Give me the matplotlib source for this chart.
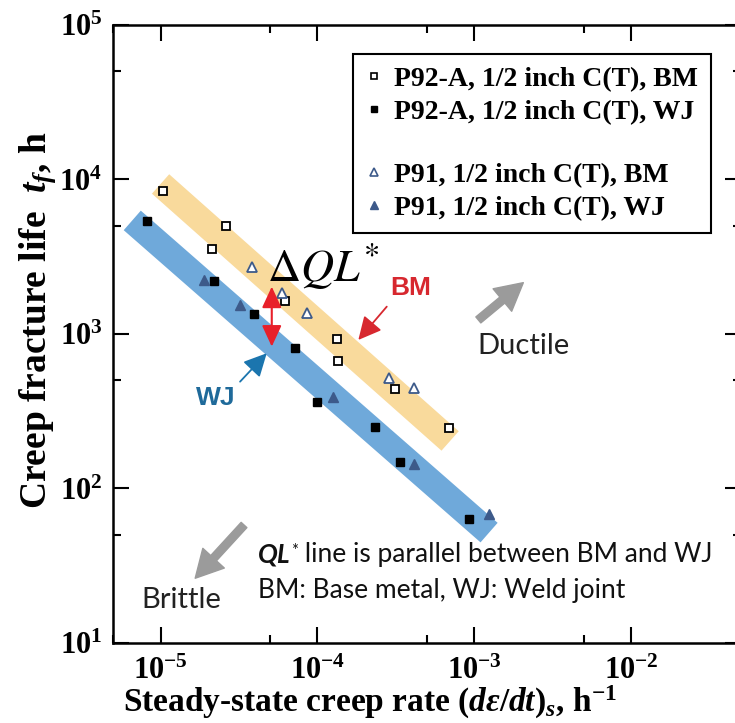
import numpy as np
import matplotlib.pyplot as plt
from matplotlib.lines import Line2D
from matplotlib.ticker import LogLocator, NullFormatter, FuncFormatter

# 基本配置
plt.rcParams['font.family'] = ['Liberation Serif', 'DejaVu Serif']
plt.rcParams['mathtext.fontset'] = 'custom'
plt.rcParams['mathtext.rm'] = 'Liberation Serif:bold'
plt.rcParams['mathtext.it'] = 'Liberation Serif:italic:bold'
plt.rcParams['mathtext.bf'] = 'Liberation Serif:bold'

# 数据 (creep rate 1/h, fracture life h)
p92_bm_rate = [1.03e-5, 2.12e-5, 2.62e-5, 6.17e-5, 1.33e-4, 1.35e-4, 3.14e-4, 6.93e-4]
p92_bm_life = [8470, 3550, 5000, 1640, 925, 672, 438, 248]
p92_wj_rate = [8.2e-6, 2.19e-5, 3.91e-5, 7.14e-5, 1.00e-4, 2.34e-4, 3.38e-4, 9.29e-4]
p92_wj_life = [5380, 2200, 1340, 815, 361, 251, 149, 63.5]
p91_bm_rate = [3.84e-5, 5.96e-5, 8.59e-5, 2.85e-4, 4.15e-4]
p91_bm_life = [2700, 1850, 1360, 521, 446]
p91_wj_rate = [1.88e-5, 3.22e-5, 1.26e-4, 4.15e-4, 1.23e-3]
p91_wj_life = [2240, 1540, 389, 144, 68]

# QL* 带
bm_band_rate = [1.0e-5, 7.0e-4]
bm_band_life = [9350, 203]
wj_band_rate = [6.6e-6, 1.24e-3]
wj_band_life = [5430, 51.8]

legend_labels = ['P92-A, 1/2 inch C(T), BM', 'P92-A, 1/2 inch C(T), WJ',
                 'P91, 1/2 inch C(T), BM', 'P91, 1/2 inch C(T), WJ']

tri_color = '#3D5A8A'
sans = ['Lato', 'DejaVu Sans']
arial = ['Liberation Sans', 'DejaVu Sans']

fig = plt.figure(figsize=(7.35, 7.23), dpi=100)
ax = fig.add_axes([0.1542, 0.1107, 0.854, 0.8548])
ax.set_xscale('log')
ax.set_yscale('log')
ax.set_xlim(5e-6, 5e-2)
ax.set_ylim(10, 1e5)

ax.plot(bm_band_rate, bm_band_life, color='#F9DA9C', lw=18.7, solid_capstyle='butt', zorder=1)
ax.plot(wj_band_rate, wj_band_life, color='#6FA9DA', lw=18.7, solid_capstyle='butt', zorder=1)

ax.plot(p92_bm_rate, p92_bm_life, 's', ms=6, mfc='white', mec='black', mew=1.3, ls='none', zorder=3)
ax.plot(p92_wj_rate, p92_wj_life, 's', ms=6, mfc='black', mec='black', ls='none', zorder=3)
ax.plot(p91_bm_rate, p91_bm_life, '^', ms=7, mfc='white', mec=tri_color, mew=1.3, ls='none', zorder=3)
ax.plot(p91_wj_rate, p91_wj_life, '^', ms=7, mfc=tri_color, mec=tri_color, ls='none', zorder=3)

# 图例(中间空一行)
handles = [Line2D([], [], marker='s', ms=5, mfc='white', mec='black', mew=1.2, ls='none'),
           Line2D([], [], marker='s', ms=5, mfc='black', mec='black', ls='none'),
           Line2D([], [], ls='none'),
           Line2D([], [], marker='^', ms=6, mfc='white', mec=tri_color, mew=1.2, ls='none'),
           Line2D([], [], marker='^', ms=6, mfc=tri_color, mec=tri_color, ls='none')]
labels = legend_labels[:2] + [' '] + legend_labels[2:]
leg = ax.legend(handles, labels, loc='upper left', bbox_to_anchor=(0.3814, 0.9531),
                borderaxespad=0, fancybox=False, framealpha=1, edgecolor='black',
                prop={'family': 'Liberation Serif', 'weight': 'bold', 'size': 20},
                handlelength=0.6, handletextpad=0.45, labelspacing=0.27, borderpad=0.45)
leg.get_frame().set_linewidth(1.5)
leg.get_texts()[2].set_fontsize(10)

# 坐标轴
ax.xaxis.set_minor_locator(LogLocator(base=10, subs=[5]))
ax.yaxis.set_minor_locator(LogLocator(base=10, subs=[5]))
ax.xaxis.set_minor_formatter(NullFormatter())
ax.yaxis.set_minor_formatter(NullFormatter())
fmt = FuncFormatter(lambda v, p: r'$10^{%d}$' % round(np.log10(v)))
ax.xaxis.set_major_formatter(fmt)
ax.yaxis.set_major_formatter(fmt)
ax.tick_params(which='both', direction='in', top=True, right=True, width=1.5, labelsize=22)
ax.tick_params(which='major', length=11.5)
ax.tick_params(which='minor', length=5.8)
ax.tick_params(axis='x', pad=10)
ax.tick_params(axis='y', pad=8)
for s in ax.spines.values():
    s.set_linewidth(1.8)

ax.set_xlabel(r'Steady-state creep rate $(d\varepsilon/dt)_s$, h$^{-1}$', fontsize=24,
              fontweight='bold', va='bottom')
ax.xaxis.set_label_coords(0.409, -0.1265)
ax.set_ylabel(r'Creep fracture life  $t_f$, h', fontsize=27, fontweight='bold')
ax.yaxis.set_label_coords(-0.088, 0.523)

# 标注
ax.text(0.245, 0.584, r'$\Delta QL^{*}$', transform=ax.transAxes, fontsize=33,
        math_fontfamily='stix', ha='left', va='baseline')
ax.annotate('', xy=(0.2524, 0.4795), xytext=(0.2524, 0.5766), xycoords='axes fraction',
            arrowprops=dict(arrowstyle='<|-|>,head_length=0.65,head_width=0.3', color='#E8202A',
                            lw=1.5, shrinkA=0, shrinkB=0, mutation_scale=20))
ax.text(0.4743, 0.5744, 'BM', transform=ax.transAxes, ha='center', va='center',
        color='#D7282F', fontsize=19, fontweight='bold', family=arial)
ax.annotate('', xy=(0.3903, 0.4903), xytext=(0.4356, 0.5442), xycoords='axes fraction',
            arrowprops=dict(arrowstyle='-|>,head_length=0.7,head_width=0.35', color='#D7282F',
                            lw=1.3, shrinkA=0, shrinkB=0, mutation_scale=20))
ax.text(0.1636, 0.3964, 'WJ', transform=ax.transAxes, ha='center', va='center',
        color='#1F6A9A', fontsize=19, fontweight='bold', family=arial)
ax.annotate('', xy=(0.2444, 0.4688), xytext=(0.2019, 0.4228), xycoords='axes fraction',
            arrowprops=dict(arrowstyle='-|>,head_length=0.7,head_width=0.35', color='#1B75AE',
                            lw=1.3, shrinkA=0, shrinkB=0, mutation_scale=20))

grey = dict(arrowstyle='simple,head_length=0.7,head_width=0.75,tail_width=0.2',
            color='#9B9B9B', shrinkA=0, shrinkB=0, mutation_scale=28)
ax.annotate('', xy=(0.6532, 0.5830), xytext=(0.5815, 0.5227), xycoords='axes fraction', arrowprops=grey)
ax.text(0.6527, 0.4806, 'Ductile', transform=ax.transAxes, ha='center', va='center',
        fontsize=21, family=sans, color='#222222')
ax.annotate('', xy=(0.1304, 0.1047), xytext=(0.2082, 0.1909), xycoords='axes fraction', arrowprops=grey)
ax.text(0.1087, 0.0696, 'Brittle', transform=ax.transAxes, ha='center', va='center',
        fontsize=21, family=sans, color='#222222', zorder=0,
        bbox=dict(facecolor='white', edgecolor='none', pad=8))

t1 = ax.text(0.231, 0.1294, 'QL', transform=ax.transAxes, ha='left', va='baseline',
             fontsize=19, family=sans, style='italic', fontweight='bold', color='#111111')
t2 = ax.annotate('*', xy=(1, 1), xycoords=t1, ha='left', va='top', fontsize=12,
                 family=sans, color='#111111')
ax.annotate(' line is parallel between BM and WJ', xy=(1, 0), xycoords=t1, xytext=(5, 0),
            textcoords='offset points', ha='left', va='bottom', fontsize=19, family=sans,
            color='#111111')
ax.text(0.231, 0.0728, 'BM: Base metal, WJ: Weld joint', transform=ax.transAxes,
        ha='left', va='baseline', fontsize=19, family=sans, color='#111111')

fig.savefig('out.png', dpi=100)
